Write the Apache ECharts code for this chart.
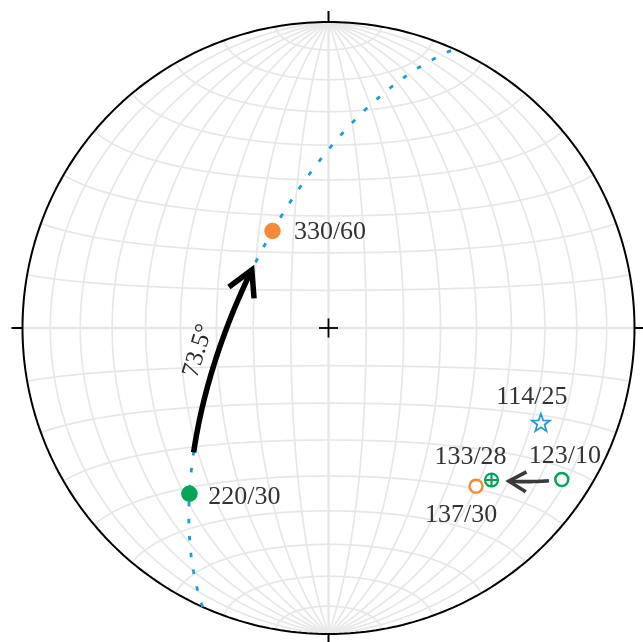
<!DOCTYPE html>
<html><head><meta charset="utf-8">
<script src="https://cdn.jsdelivr.net/npm/echarts/dist/echarts.min.js"></script>
<style>html,body{margin:0;padding:0;background:#fff}#c{width:643px;height:642px}</style>
</head><body><div id="c"></div>
<script>
// ---- data ----
const trends = [330, 220, 114, 123, 133, 137];
const plunges = [60, 30, 25, 10, 28, 30];
const pointLabels = ['330/60', '220/30', '114/25', '123/10', '133/28', '137/30'];
const angleLabel = '73.5°';
const gridStepDeg = 10;
// great circle / rotation arrow defined by point indices
const greatCircleFrom = 1, greatCircleTo = 0;
const moveFrom = 3, moveTo = 4;

// ---- geometry helpers (equal-area, lower hemisphere) ----
const D = Math.PI / 180;
function vec(t, p) { return [Math.cos(p * D) * Math.sin(t * D), Math.cos(p * D) * Math.cos(t * D), Math.sin(p * D)]; }
function dot(a, b) { return a[0] * b[0] + a[1] * b[1] + a[2] * b[2]; }
function norm(a) { const l = Math.hypot(a[0], a[1], a[2]); return [a[0] / l, a[1] / l, a[2] / l]; }
function proj(v) {
  let [e, n, d] = v;
  if (d < 0) { e = -e; n = -n; d = -d; }
  const r = Math.sqrt(Math.max(0, 1 - d));
  const h = Math.hypot(e, n);
  if (h < 1e-12) return [0, 0];
  return [r * e / h, r * n / h];
}
function gcBasis(a, b) {
  const c = dot(a, b);
  const w = norm([b[0] - c * a[0], b[1] - c * a[1], b[2] - c * a[2]]);
  return { w: w, ang: Math.acos(c) / D };
}
function gcPoint(a, w, thDeg) {
  const c = Math.cos(thDeg * D), s = Math.sin(thDeg * D);
  return [a[0] * c + w[0] * s, a[1] * c + w[1] * s, a[2] * c + w[2] * s];
}
function arc(a, b, d0, d1, n) {
  const { w } = gcBasis(a, b);
  const pts = [];
  for (let i = 0; i <= n; i++) pts.push(proj(gcPoint(a, w, d0 + (d1 - d0) * i / n)));
  return pts;
}
function fullGC(a, b, n) {
  const { w } = gcBasis(a, b);
  let t0 = Math.atan2(-a[2], w[2]) / D;
  const mid = gcPoint(a, w, t0 + 90);
  if (mid[2] < 0) t0 -= 180;
  const pts = [];
  for (let i = 0; i <= n; i++) {
    const v = gcPoint(a, w, t0 + 180 * i / n);
    if (v[2] < 0) v[2] = 0;
    pts.push(proj(v));
  }
  return pts;
}
function chevron(a, b, endDeg, backDeg, lenPx, halfDeg) {
  const { w } = gcBasis(a, b);
  const tip = proj(gcPoint(a, w, endDeg));
  const back = proj(gcPoint(a, w, endDeg - backDeg));
  let dx = back[0] - tip[0], dy = back[1] - tip[1];
  const l = Math.hypot(dx, dy); dx /= l; dy /= l;
  const L = lenPx / SCALE;
  const rot = (ang) => [tip[0] + L * (dx * Math.cos(ang) - dy * Math.sin(ang)), tip[1] + L * (dx * Math.sin(ang) + dy * Math.cos(ang))];
  return [rot(halfDeg * D), tip, rot(-halfDeg * D)];
}

// ---- layout ----
const CX = 328.5, CY = 328, SCALE = 306, EXT = 1.05;

const series = [];
function lineS(data, color, width, z, extra) {
  series.push(Object.assign({
    type: 'line', data: data, showSymbol: false, symbol: 'none', silent: true,
    animation: false, clip: false, smooth: false, z: z,
    lineStyle: { color: color, width: width }
  }, extra || {}));
}

// Schmidt net grid
const GRID = '#e7e7e7';
for (let dip = gridStepDeg; dip <= 90; dip += gridStepDeg) {
  for (const s of (dip === 90 ? [1] : [1, -1])) {
    const pts = [];
    for (let f = 0; f <= 180; f += 1) {
      const v = [s * Math.sin(f * D) * Math.cos(dip * D), Math.cos(f * D), Math.sin(f * D) * Math.sin(dip * D)];
      pts.push(proj(v));
    }
    lineS(pts, GRID, dip === 90 ? 2.4 : 1.7, 1);
  }
}
for (let al = gridStepDeg; al <= 90; al += gridStepDeg) {
  for (const s of (al === 90 ? [1] : [1, -1])) {
    const pts = [];
    for (let p = 0; p <= 180; p += 1) {
      const v = [Math.sin(al * D) * Math.cos(p * D), s * Math.cos(al * D), Math.sin(al * D) * Math.sin(p * D)];
      pts.push(proj(v));
    }
    lineS(pts, GRID, al === 90 ? 2.4 : 1.7, 1);
  }
}

// primitive
const prim = [];
for (let i = 0; i <= 360; i++) prim.push([Math.cos(i * D), Math.sin(i * D)]);
lineS(prim, '#000', 2, 2);
// N E S W ticks
const tk = 1 + 11 / SCALE;
for (const az of [0, 90, 180, 270]) {
  lineS([[Math.sin(az * D), Math.cos(az * D)], [tk * Math.sin(az * D), tk * Math.cos(az * D)]], '#000', 2, 2);
}
// centre cross
const cc = 9.5 / SCALE;
lineS([[-cc, 0], [cc, 0]], '#000', 1.8, 2);
lineS([[0, -cc], [0, cc]], '#000', 1.8, 2);

// great circle through the two lines
const V = trends.map((t, i) => vec(t, plunges[i]));
const A = V[greatCircleFrom], B = V[greatCircleTo];
lineS(fullGC(A, B, 600), '#1e9bd7', 2.8, 3, { lineStyle: { color: '#1e9bd7', width: 2.8, type: [4.5, 12.5], cap: 'butt' } });

// rotation arrow along great circle
const blkStart = 11.5, blkEnd = 62;
lineS(arc(A, B, blkStart, blkEnd, 120), '#000', 5.5, 4, { lineStyle: { color: '#000', width: 5.5, cap: 'butt', join: 'round' } });
lineS(chevron(A, B, blkEnd, 10, 28.5, 29), '#000', 5.5, 4, { lineStyle: { color: '#000', width: 5.5, cap: 'butt', join: 'miter', miterLimit: 10 } });

// small movement arrow
const A2 = V[moveFrom], B2 = V[moveTo];
const gs = 3.8, ge = 15.4;
lineS(arc(A2, B2, gs, ge, 60), '#3a3a3a', 3.6, 4, { lineStyle: { color: '#3a3a3a', width: 3.6, cap: 'butt' } });
lineS(chevron(A2, B2, ge, 3, 20, 30), '#3a3a3a', 3.6, 4, { lineStyle: { color: '#3a3a3a', width: 3.6, cap: 'butt', join: 'miter', miterLimit: 10 } });

// angle label at arc midpoint (offset is in the rotated text frame)
const { w: wAB } = gcBasis(A, B);
const midPt = proj(gcPoint(A, wAB, (blkStart + blkEnd) / 2));
const FONT = 'Liberation Serif';
series.push({
  type: 'scatter', silent: true, animation: false, clip: false, z: 6,
  data: [{ value: midPt, name: angleLabel }], symbol: 'circle', symbolSize: 1,
  itemStyle: { color: '#fff', opacity: 0 },
  label: { show: true, position: 'inside', formatter: '{b}', offset: [4, -19], rotate: 73, opacity: 1,
    textBorderWidth: 0, textBorderColor: 'transparent',
    fontFamily: FONT, fontSize: 25, color: '#2a2a2a', align: 'center', verticalAlign: 'middle' }
});

// markers
function starPath() {
  let s = 'path://';
  for (let k = 0; k < 10; k++) {
    const r = k % 2 === 0 ? 10 : 4.1;
    const a = (-90 + 36 * k) * D;
    s += (k === 0 ? 'M' : 'L') + (10 + r * Math.cos(a)).toFixed(3) + ',' + (10 + r * Math.sin(a)).toFixed(3);
  }
  return s + 'Z';
}
const plusCircle = 'path://M0,10A10,10 0 1 1 20,10A10,10 0 1 1 0,10Z M10,0L10,20M0,10L20,10';
const ORANGE = '#f58b36', GREEN = '#00a655', BLUE = '#1e9bd7';
const markerStyle = [
  { symbol: 'circle', size: 16.5, fill: ORANGE, stroke: ORANGE, bw: 0, off: [57.5, 1.5] },
  { symbol: 'circle', size: 16.5, fill: GREEN, stroke: GREEN, bw: 0, off: [55, 3] },
  { symbol: starPath(), size: 18, fill: '#fff', stroke: BLUE, bw: 1.8, off: [-9, -25] },
  { symbol: 'circle', size: 13, fill: '#fff', stroke: GREEN, bw: 2.5, off: [3, -23] },
  { symbol: plusCircle, size: 13, fill: '#fff', stroke: GREEN, bw: 2.2, off: [-21, -23] },
  { symbol: 'circle', size: 13, fill: '#fff', stroke: ORANGE, bw: 2.5, off: [-15, 29] }
];
trends.forEach((t, i) => {
  const st = markerStyle[i];
  series.push({
    type: 'scatter', silent: true, animation: false, clip: false, z: 6,
    symbol: st.symbol, symbolSize: st.size, symbolKeepAspect: true,
    itemStyle: { color: st.fill, borderColor: st.stroke, borderWidth: st.bw, opacity: 1 },
    data: [{ value: proj(V[i]), name: pointLabels[i] }],
    label: { show: true, position: 'inside', formatter: '{b}', offset: st.off,
      textBorderWidth: 0, textBorderColor: 'transparent',
      fontFamily: FONT, fontSize: 26, color: '#333', align: 'center', verticalAlign: 'middle' }
  });
});

const chart = echarts.init(document.getElementById('c'), null, { renderer: 'canvas' });
chart.setOption({
  backgroundColor: '#fff',
  animation: false,
  grid: { left: CX - EXT * SCALE, top: CY - EXT * SCALE, width: 2 * EXT * SCALE, height: 2 * EXT * SCALE,
    containLabel: false, outerBoundsMode: 'none' },
  xAxis: { type: 'value', min: -EXT, max: EXT, show: false, splitLine: { show: false } },
  yAxis: { type: 'value', min: -EXT, max: EXT, show: false, splitLine: { show: false } },
  tooltip: { show: false },
  series: series
});
</script>
</body></html>
